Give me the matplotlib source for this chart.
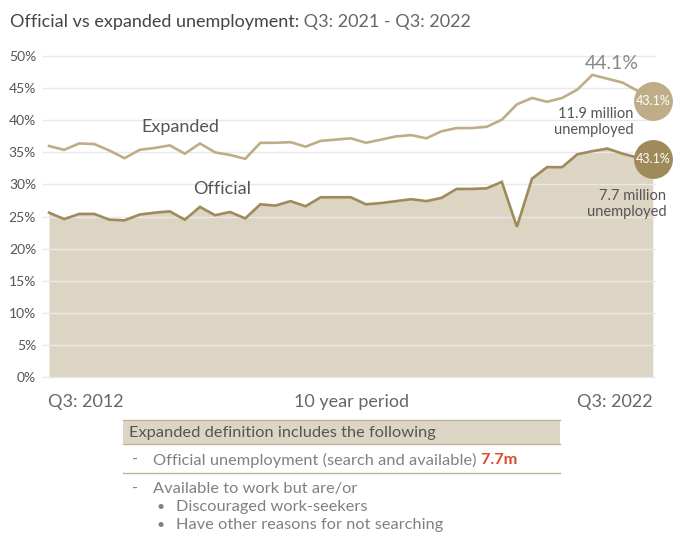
import matplotlib
matplotlib.use("Agg")
import matplotlib.pyplot as plt
from matplotlib.patches import Rectangle
from matplotlib.lines import Line2D

plt.rcParams['font.family'] = ['Lato', 'DejaVu Sans']

# Quarterly unemployment rates, Q3 2012 .. Q3 2022 (percent)
expanded = [36.0, 35.4, 36.4, 36.3, 35.3, 34.1, 35.4, 35.7, 36.1, 34.8,
            36.4, 35.0, 34.6, 34.0, 36.5, 36.5, 36.6, 35.9, 36.8, 37.0,
            37.2, 36.5, 37.0, 37.5, 37.7, 37.2, 38.3, 38.8, 38.8, 39.0,
            40.1, 42.5, 43.5, 42.9, 43.5, 44.8, 47.1, 46.5, 45.9, 44.6,
            43.1]
official = [25.6, 24.6, 25.4, 25.4, 24.5, 24.4, 25.3, 25.6, 25.8, 24.5,
            26.5, 25.2, 25.7, 24.7, 26.9, 26.7, 27.4, 26.6, 28.0, 28.0,
            28.0, 26.9, 27.1, 27.4, 27.7, 27.4, 27.9, 29.3, 29.3, 29.4,
            30.4, 23.4, 30.9, 32.7, 32.7, 34.7, 35.2, 35.6, 34.8, 34.2,
            33.9]
quarters = list(range(len(official)))

y_ticks = [0, 5, 10, 15, 20, 25, 30, 35, 40, 45, 50]
x_labels = ["Q3: 2012", "10 year period", "Q3: 2022"]
peak_label = "44.1%"
badge_labels = ["43.1%", "43.1%"]
expanded_note = "11.9 million\nunemployed"
official_note = "7.7 million\nunemployed"
series_names = ["Expanded", "Official"]

title_main = "Official vs expanded unemployment:"
title_period = " Q3: 2021 - Q3: 2022"
box_header = "Expanded definition includes the following"
row1_text = "Official unemployment (search and available)"
row1_value = " 7.7m"
row2_text = "Available to work but are/or"
row2_bullets = ["Discouraged work-seekers", "Have other reasons for not searching"]

C_EXP = "#bead87"
C_OFF = "#9f8a5a"
C_FILL = "#ddd5c3"
C_GRID = "#e9e9e9"
C_TXT = "#555555"
C_LIGHT = "#808080"

W, H = 687, 536
fig = plt.figure(figsize=(W / 100, H / 100), dpi=100)
fig.patch.set_facecolor("white")


def fx(px):
    return px / W


def fy(py):
    return 1 - py / H


ax = fig.add_axes([fx(43), fy(376.7), fx(655) - fx(43), fy(56.3) - fy(376.7)])
ax.set_xlim(-0.4, 40.15)
ax.set_ylim(0, 50)
for s in ax.spines.values():
    s.set_visible(False)
ax.set_facecolor("none")

ax.fill_between(quarters, 0, official, color=C_FILL, lw=0, zorder=1)
for t in y_ticks:
    ax.axhline(t, color=C_GRID, lw=1.0, zorder=2, clip_on=False)
ax.plot(quarters, expanded, color=C_EXP, lw=1.9, zorder=3, solid_joinstyle="miter")
ax.plot(quarters, official, color=C_OFF, lw=1.9, zorder=3, solid_joinstyle="miter")

ax.set_yticks(y_ticks)
ax.set_yticklabels([f"{t}%" for t in y_ticks], fontsize=10, color=C_TXT)
ax.tick_params(axis="y", length=0, pad=5)
ax.set_xticks([])

# end-point badges
ax.plot([quarters[-1]], [expanded[-1]], "o", ms=28, color=C_EXP, mec="none",
        zorder=5, clip_on=False)
ax.plot([quarters[-1]], [official[-1]], "o", ms=28, color=C_OFF, mec="none",
        zorder=5, clip_on=False)
ax.text(quarters[-1], expanded[-1], badge_labels[0], color="white", fontsize=9,
        ha="center", va="center", zorder=6)
ax.text(quarters[-1], official[-1], badge_labels[1], color="white", fontsize=9,
        ha="center", va="center", zorder=6)

# series names and annotations
ax.text(8.7, 39.0, series_names[0], fontsize=13, color=C_TXT, ha="center", va="center")
ax.text(11.5, 29.3, series_names[1], fontsize=13, color=C_TXT, ha="center", va="center")
ax.text(39.1, 48.8, peak_label, fontsize=14, color="#888888", ha="right", va="center")
ax.text(38.75, 39.7, expanded_note, fontsize=10.5, color=C_TXT, ha="right", va="center",
        linespacing=1.15)
ax.text(40.9, 26.9, official_note, fontsize=10.5, color=C_TXT, ha="right", va="center",
        linespacing=1.15)

# x-axis captions
fig.text(fx(48), fy(402), x_labels[0], fontsize=13, color="#666666", ha="left", va="center")
fig.text(fx(351), fy(402), x_labels[1], fontsize=13, color="#666666", ha="center", va="center")
fig.text(fx(653), fy(402), x_labels[2], fontsize=13, color="#666666", ha="right", va="center")

renderer = fig.canvas.get_renderer()


def text_after(t, s, **kw):
    bb = t.get_window_extent(renderer)
    x1 = bb.x1 / fig.bbox.width
    y = t.get_position()[1]
    return fig.text(x1, y, s, **kw)


# title
t1 = fig.text(fx(10), fy(22), title_main, fontsize=13, color="#444444", ha="left",
              va="center")
text_after(t1, title_period, fontsize=13, color="#666666", ha="left", va="center")

# definition box
fig.patches.append(Rectangle((fx(123), fy(444)), fx(560) - fx(123), fy(420) - fy(444),
                             transform=fig.transFigure, facecolor=C_FILL,
                             edgecolor="none", zorder=0))
for yy in (420, 444, 473):
    fig.lines.append(Line2D([fx(123), fx(560)], [fy(yy), fy(yy)],
                            transform=fig.transFigure, color="#bfb39b", lw=1))
fs = 11.8
fig.text(fx(129), fy(433), box_header, fontsize=fs, color=C_TXT, ha="left", va="center")
fig.text(fx(132), fy(460), "-", fontsize=fs, color=C_LIGHT, ha="left", va="center")
r1 = fig.text(fx(153), fy(460), row1_text, fontsize=fs, color=C_LIGHT, ha="left",
              va="center")
text_after(r1, row1_value, fontsize=fs, color="#e2472b", ha="left", va="center",
           fontweight="bold")
fig.text(fx(132), fy(489), "-", fontsize=fs, color=C_LIGHT, ha="left", va="center")
fig.text(fx(153), fy(489), row2_text, fontsize=fs, color=C_LIGHT, ha="left", va="center")
for i, b in enumerate(row2_bullets):
    yy = 507 + 18 * i
    fig.text(fx(157), fy(yy), "\u2022", fontsize=10, color=C_LIGHT, ha="left", va="center")
    fig.text(fx(176), fy(yy), b, fontsize=fs, color=C_LIGHT, ha="left", va="center")

fig.savefig("out.png", dpi=100, facecolor="white")
